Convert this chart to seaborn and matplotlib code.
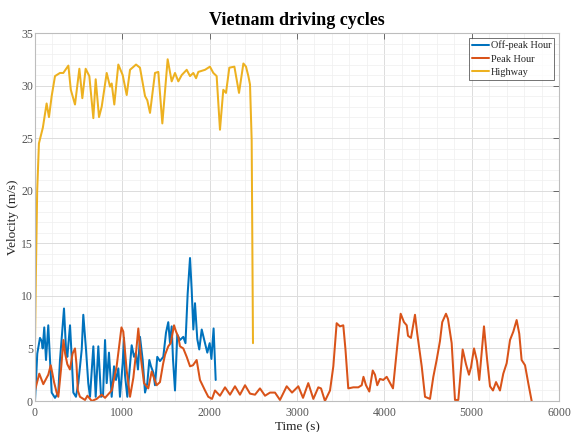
import numpy as np
import pandas as pd
import matplotlib
matplotlib.use("Agg")
import matplotlib.pyplot as plt
from matplotlib.ticker import MultipleLocator
import seaborn as sns

# ---------------- data ----------------
offpeak_t = [0, 26, 57, 77, 88, 106, 126, 152, 172, 191, 229, 267, 286, 306, 332, 355, 370, 401, 420,
             439, 469, 496, 535, 553, 584, 610, 630, 668, 695, 725, 756, 779, 802, 821, 847, 878, 905,
             927, 954, 973, 1004, 1019, 1030, 1057, 1107, 1134, 1156, 1179, 1202, 1233, 1260, 1286,
             1309, 1328, 1355, 1374, 1400, 1431, 1469, 1500, 1526, 1546, 1565, 1580, 1603, 1629, 1660,
             1698, 1723, 1748, 1775, 1794, 1813, 1832, 1858, 1881, 1909, 1935, 1973, 2000, 2020, 2045, 2069]
offpeak_v = [0.0, 4.5, 6.0, 5.7, 5.0, 7.0, 3.9, 7.2, 3.9, 0.8, 0.3, 0.8, 3.9, 6.0, 8.8, 4.9, 4.2, 7.2, 4.2,
             0.8, 0.4, 1.7, 4.9, 8.2, 4.9, 1.7, 0.4, 5.2, 0.4, 5.2, 0.4, 0.5, 5.8, 1.7, 4.6, 0.4, 3.3,
             2.0, 3.1, 0.4, 3.6, 6.0, 2.5, 0.4, 5.3, 4.2, 4.6, 3.0, 6.1, 3.9, 0.8, 1.7,
             3.9, 3.3, 2.7, 1.5, 4.2, 3.8, 4.2, 6.5, 7.5, 5.5, 7.1, 4.0, 1.0, 6.3, 5.8,
             6.1, 5.5, 10.2, 13.6, 10.6, 6.8, 9.3, 5.9, 4.9, 6.8, 5.9, 4.6, 5.5, 4.0, 6.9, 2.0]

peak_t = [0, 49, 95, 152, 180, 195, 218, 248, 267, 300, 326, 345, 370, 400, 430, 458, 475, 490, 515,
          573, 600, 650, 706, 764, 802, 878, 935, 990, 1011, 1050, 1088, 1126, 1156, 1183, 1214, 1248,
          1297, 1336, 1363, 1393, 1431, 1466, 1489, 1526, 1554, 1592, 1615, 1641, 1660, 1698, 1737,
          1775, 1809, 1851, 1889, 1947, 1984, 2027, 2061, 2118, 2176, 2233, 2290, 2347, 2405, 2462,
          2519, 2576, 2634, 2691, 2748, 2805, 2882, 2943, 3015, 3069, 3129, 3187, 3244, 3275, 3320,
          3378, 3416, 3454, 3492, 3530, 3555, 3587, 3645, 3702, 3741, 3761, 3790, 3828, 3867, 3893,
          3919, 3950, 3988, 4027, 4099, 4145, 4187, 4225, 4256, 4271, 4305, 4351, 4377, 4428, 4466,
          4523, 4561, 4599, 4637, 4663, 4706, 4729, 4771, 4809, 4847, 4897, 4935, 4969, 4992, 5027,
          5061, 5087, 5141, 5176, 5210, 5244, 5279, 5324, 5362, 5401, 5439, 5477, 5515, 5545, 5572,
          5611, 5648, 5687]
peak_v = [1.0, 2.6, 1.6, 2.5, 3.4, 2.8, 1.8, 0.8, 0.4, 3.2, 5.8, 4.5, 3.5, 3.0, 4.5, 5.0, 3.5, 1.0, 0.4,
          0.1, 0.5, 0.0, 0.2, 0.6, 0.3, 1.0, 3.3, 7.0, 6.6, 2.9, 0.4, 2.2, 4.5, 6.9, 4.0, 1.7,
          1.2, 2.8, 2.2, 1.5, 1.8, 3.5, 4.4, 5.2, 5.5, 7.2, 6.6, 6.1, 5.2, 5.0, 4.2,
          3.3, 3.4, 3.9, 2.0, 1.0, 0.4, 0.2, 1.0, 0.5, 1.3, 0.6, 1.4, 0.6, 1.5, 0.7,
          0.6, 1.2, 0.5, 0.8, 0.8, 0.1, 1.4, 0.8, 1.4, 0.3, 1.7, 0.2, 1.3, 1.2, 0.0,
          1.0, 3.3, 7.4, 7.1, 7.2, 4.9, 1.2, 1.3, 1.3, 1.5, 2.3, 1.5, 0.9, 2.9, 2.5,
          1.5, 2.1, 2.0, 2.3, 1.2, 5.0, 8.3, 7.5, 7.2, 6.2, 6.0, 8.2, 6.4, 3.3, 0.4,
          0.2, 2.3, 3.9, 5.7, 7.5, 8.3, 7.8, 5.5, 0.1, 0.1, 4.9, 3.5, 2.5, 3.2, 5.0,
          3.8, 2.0, 7.1, 4.0, 1.4, 1.0, 1.8, 1.0, 2.6, 3.6, 5.8, 6.6, 7.7, 6.4, 3.9,
          3.4, 1.7, 0.0]

highway_t = [0, 10, 25, 45, 90, 133, 160, 191, 229, 286, 324, 382, 410, 458, 508, 542, 580, 622, 668,
             695, 733, 764, 821, 859, 878, 908, 954, 1004, 1050, 1088, 1157, 1202, 1260, 1286, 1317,
             1374, 1412, 1458, 1519, 1565, 1603, 1641, 1680, 1737, 1775, 1813, 1844, 1870, 1947, 2003,
             2042, 2080, 2118, 2156, 2187, 2225, 2283, 2336, 2386, 2416, 2443, 2462, 2481, 2496]
highway_v = [5.5, 12.0, 20.0, 24.5, 26.0, 28.3, 27.0, 29.0, 30.9, 31.2, 31.2, 31.9, 29.6, 28.2, 31.6, 28.8,
             31.6, 30.9, 26.9, 30.6, 27.0, 28.0, 31.2, 29.9, 30.2, 28.2, 32.0, 31.0, 29.1, 31.5, 32.0,
             31.7, 29.0, 28.6, 27.4, 31.2, 31.3, 26.4, 32.5, 30.4, 31.2, 30.4, 31.0, 31.5, 30.9, 31.2,
             30.7, 31.3, 31.5, 31.8, 31.2, 30.9, 25.8, 29.6, 29.3, 31.7, 31.8, 29.3, 32.1, 31.8, 30.9,
             30.1, 24.8, 5.5]

series_names = ["Off-peak Hour", "Peak Hour", "Highway"]
series_colors = ["#0072BD", "#D95319", "#EDB120"]

title = "Vietnam driving cycles"
xlabel = "Time (s)"
ylabel = "Velocity (m/s)"

# ---------------- plot ----------------
sns.set_theme(style="white")
plt.rcParams["font.family"] = ["Liberation Serif", "DejaVu Serif"]

fig = plt.figure(figsize=(5.71, 4.32), dpi=100)
ax = fig.add_axes([35 / 571, 1 - 401 / 432, (559 - 35) / 571, (401 - 33) / 432])

frames = []
for name, t, v in zip(series_names, [offpeak_t, peak_t, highway_t], [offpeak_v, peak_v, highway_v]):
    frames.append(pd.DataFrame({"t": t, "v": v, "series": name}))
df = pd.concat(frames, ignore_index=True)

sns.lineplot(data=df, x="t", y="v", hue="series", hue_order=series_names,
             palette=dict(zip(series_names, series_colors)), estimator=None, sort=False,
             linewidth=1.45, ax=ax)

ax.set_xlim(0, 6000)
ax.set_ylim(0, 35)
ax.xaxis.set_major_locator(MultipleLocator(1000))
ax.xaxis.set_minor_locator(MultipleLocator(200))
ax.yaxis.set_major_locator(MultipleLocator(5))
ax.yaxis.set_minor_locator(MultipleLocator(1))
ax.grid(True, which="major", color="#dcdcdc", linewidth=0.7)
ax.grid(True, which="minor", color="#efefef", linewidth=0.5)
ax.set_axisbelow(True)

ax.tick_params(which="major", direction="in", length=4, width=0.6, colors="#555555",
               labelsize=8.5, top=True, right=True)
ax.tick_params(axis="x", which="major", pad=4)
ax.tick_params(axis="y", which="major", pad=1.5)
ax.tick_params(which="minor", length=0, top=False, right=False)
for s in ax.spines.values():
    s.set_color("#bdbdbd")
    s.set_linewidth(0.8)

ax.set_xlabel(xlabel, fontsize=9.5, color="#222222", labelpad=2)
ax.set_ylabel(ylabel, fontsize=9.5, color="#222222")
ax.yaxis.set_label_coords(-0.03, 0.5)
ax.set_title(title, fontsize=13, fontweight="bold", color="black", pad=6)

leg = ax.legend(loc="upper right", fontsize=7.4, frameon=True, fancybox=False,
                borderpad=0.3, labelspacing=0.4, handlelength=1.6, handletextpad=0.2,
                borderaxespad=0.45)
leg.get_frame().set_edgecolor("#333333")
leg.get_frame().set_linewidth(0.6)

fig.savefig("out.png", dpi=100)
